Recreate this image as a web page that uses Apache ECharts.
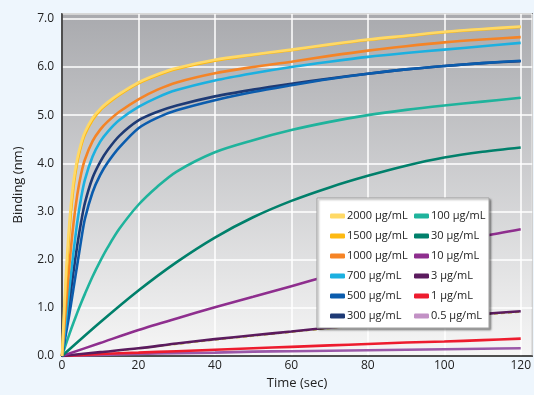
<!DOCTYPE html>
<html>
<head>
<meta charset="utf-8">
<script src="https://cdn.jsdelivr.net/npm/echarts@6.0.0/dist/echarts.min.js"></script>
<style>
  html, body { margin: 0; padding: 0; background: #eef6fd; }
  #chart { width: 534px; height: 395px; }
</style>
</head>
<body>
<div id="chart"></div>
<script>
// time points (sec)
var timesFast = [0, 1, 2, 3, 4, 5, 6, 8, 10, 12, 15, 20, 25, 30, 40, 50, 60, 70, 80, 90, 100, 110, 120];
var timesSlow = [0, 10, 20, 30, 40, 50, 60, 70, 80, 90, 100, 110, 120];

// binding (nm), fast curves
var y2000 = [0, 1.65, 2.85, 3.62, 4.1, 4.42, 4.65, 4.94, 5.13, 5.27, 5.44, 5.68, 5.85, 5.98, 6.15, 6.26, 6.36, 6.47, 6.57, 6.65, 6.73, 6.79, 6.84];
var y1500 = [0, 1.45, 2.65, 3.5, 4.02, 4.36, 4.6, 4.9, 5.1, 5.24, 5.42, 5.66, 5.83, 5.96, 6.13, 6.25, 6.35, 6.46, 6.56, 6.64, 6.72, 6.78, 6.83];
var y1000 = [0, 1.0, 1.95, 2.75, 3.35, 3.78, 4.08, 4.46, 4.7, 4.87, 5.07, 5.33, 5.53, 5.68, 5.87, 6.0, 6.11, 6.23, 6.34, 6.43, 6.51, 6.57, 6.62];
var y700 = [0, 0.7, 1.45, 2.15, 2.78, 3.28, 3.66, 4.14, 4.45, 4.66, 4.9, 5.17, 5.37, 5.52, 5.72, 5.87, 6.0, 6.11, 6.21, 6.29, 6.36, 6.43, 6.5];
var y500 = [0, 0.45, 0.9, 1.4, 1.9, 2.4, 2.85, 3.4, 3.76, 4.02, 4.33, 4.73, 4.95, 5.1, 5.31, 5.48, 5.62, 5.75, 5.86, 5.95, 6.02, 6.08, 6.13];
var y300 = [0, 0.55, 1.15, 1.75, 2.3, 2.78, 3.18, 3.7, 4.03, 4.28, 4.57, 4.89, 5.07, 5.2, 5.39, 5.53, 5.65, 5.76, 5.86, 5.95, 6.02, 6.08, 6.12];
var y100 = [0, 0.24, 0.47, 0.69, 0.9, 1.1, 1.29, 1.65, 1.97, 2.26, 2.64, 3.14, 3.52, 3.83, 4.23, 4.48, 4.69, 4.86, 5.0, 5.11, 5.2, 5.28, 5.36];

// binding (nm), slow curves
var y30 = [0, 0.7, 1.36, 1.95, 2.46, 2.88, 3.22, 3.5, 3.74, 3.95, 4.12, 4.24, 4.33];
var y10 = [0, 0.27, 0.54, 0.78, 1.01, 1.23, 1.45, 1.67, 1.88, 2.08, 2.29, 2.48, 2.63];
var y3 = [0, 0.08, 0.16, 0.26, 0.35, 0.43, 0.51, 0.59, 0.66, 0.73, 0.8, 0.87, 0.93];
var y3fit = [0, 0.07, 0.15, 0.24, 0.33, 0.41, 0.49, 0.57, 0.64, 0.71, 0.78, 0.85, 0.91];
var y1 = [0, 0.04, 0.07, 0.1, 0.13, 0.16, 0.19, 0.22, 0.25, 0.28, 0.3, 0.33, 0.36];
var y05 = [0, 0.02, 0.04, 0.06, 0.07, 0.09, 0.1, 0.11, 0.12, 0.13, 0.14, 0.15, 0.16];

var names = ['2000 μg/mL', '1500 μg/mL', '1000 μg/mL', '700 μg/mL', '500 μg/mL', '300 μg/mL',
             '100 μg/mL', '30 μg/mL', '10 μg/mL', '3 μg/mL', '1 μg/mL', '0.5 μg/mL'];
var colors = ['#ffd966', '#fdb913', '#f58426', '#1cb0e0', '#0b5cad', '#1e3a75',
              '#1fb39c', '#00806b', '#8e2e8e', '#5b1b5e', '#ed1c2e', '#c291c5'];
var lineColors = colors.slice();
lineColors[11] = '#9a58a8';

var values = [y2000, y1500, y1000, y700, y500, y300, y100, y30, y10, y3, y1, y05];
var timeOf = [timesFast, timesFast, timesFast, timesFast, timesFast, timesFast, timesFast,
              timesSlow, timesSlow, timesSlow, timesSlow, timesSlow];

function pairs(xs, ys) {
  return ys.map(function (v, i) { return [xs[i], v]; });
}

var FONT = 'Open Sans';

var series = [];
for (var i = 0; i < names.length; i++) {
  series.push({
    name: names[i],
    type: 'line',
    data: pairs(timeOf[i], values[i]),
    showSymbol: false,
    smooth: 0.3,
    color: colors[i],
    lineStyle: { color: lineColors[i], width: 2.6 },
    z: 2 + (12 - i) * 0.01,
    silent: true
  });
  if (names[i] === '3 μg/mL') {
    // dashed fit line under 3 μg/mL
    series.push({
      type: 'line',
      data: pairs(timesSlow, y3fit),
      showSymbol: false,
      smooth: 0.3,
      lineStyle: { color: '#c8c83a', width: 1.2, type: [4, 3] },
      z: 1.9,
      silent: true
    });
  }
}

var chart = echarts.init(document.getElementById('chart'));

var option = {
  backgroundColor: '#eef6fd',
  animation: false,
  grid: {
    left: 62, right: 0, top: 14, bottom: 34,
    show: true,
    borderColor: '#333',
    borderWidth: 1.5,
    backgroundColor: new echarts.graphic.LinearGradient(0, 0, 0, 1, [
      { offset: 0, color: '#a9aaae' },
      { offset: 1, color: '#f6f6f6' }
    ])
  },
  xAxis: {
    type: 'value',
    min: 0, max: 123, interval: 20,
    name: 'Time (sec)',
    nameLocation: 'middle',
    nameGap: 21,
    nameTextStyle: { fontFamily: FONT, fontSize: 13, color: '#222' },
    axisLine: { show: true, lineStyle: { color: '#222', width: 1.5 } },
    axisTick: { show: false },
    axisLabel: { fontFamily: FONT, fontSize: 12, color: '#222', margin: 4, showMaxLabel: false },
    splitLine: { show: true, lineStyle: { color: '#ffffff', width: 1.5 } }
  },
  yAxis: {
    type: 'value',
    min: 0, max: 7.1, interval: 1,
    name: 'Binding (nm)',
    nameLocation: 'middle',
    nameGap: 37,
    nameTextStyle: { fontFamily: FONT, fontSize: 13, color: '#222' },
    axisLine: { show: true, lineStyle: { color: '#222', width: 1.5 } },
    axisTick: { show: false },
    axisLabel: {
      fontFamily: FONT, fontSize: 12, color: '#222', margin: 8, showMaxLabel: false,
      formatter: function (v) { return v.toFixed(1); }
    },
    splitLine: { show: true, lineStyle: { color: '#ffffff', width: 1.5 } }
  },
  graphic: [{
    type: 'rect',
    z: 10,
    shape: { x: 317, y: 198, width: 172, height: 130 },
    style: {
      fill: '#ffffff', stroke: '#a0a0a0', lineWidth: 1,
      shadowBlur: 2, shadowOffsetX: 1.5, shadowOffsetY: 1.5, shadowColor: 'rgba(0,0,0,0.35)'
    }
  }],
  legend: [0, 6].map(function (start, k) {
    return {
      orient: 'vertical',
      left: k === 0 ? 325 : 409,
      top: 204,
      z: 20,
      icon: 'roundRect',
      itemWidth: 15,
      itemHeight: 5,
      itemGap: 6,
      selectedMode: false,
      textStyle: { fontFamily: FONT, fontSize: 11, color: '#222', lineHeight: 14, padding: [0, 0, 0, -3] },
      data: names.slice(start, start + 6)
    };
  }),
  series: series
};

chart.setOption(option);
</script>
</body>
</html>
